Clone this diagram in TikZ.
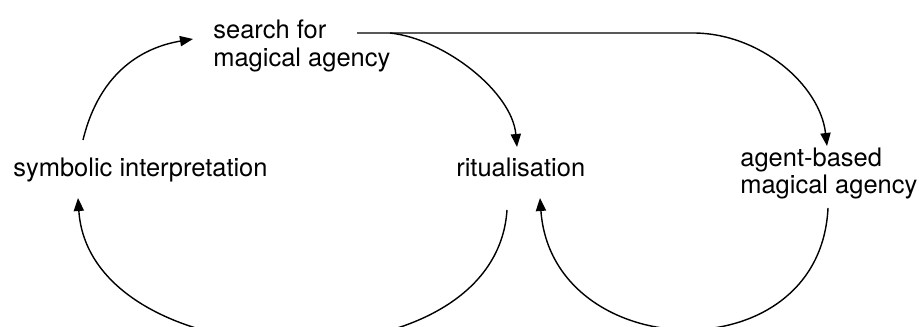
\documentclass[tikz,border=0pt]{standalone}
\usepackage{fontspec}
\setmainfont{TeX Gyre Heros}
\usetikzlibrary{calc,arrows.meta}
\tikzset{
	lbl/.style={inner sep=0pt, font=\fontsize{14.5}{15.4}\selectfont},
	arr/.style={line width=0.8pt, -{Triangle[length=7.4pt,width=5.8pt]}}
}

\begin{document}
\begin{tikzpicture}[x=0.02cm, y=0.02cm]
		%%%%% START %%%%%
		
		\useasboundingbox (0, 0) rectangle (919, 327);
		\clip (0, 0) rectangle (919, 327);
		
		\node[lbl, anchor=base west] (sym) at (13, 150) {symbolic interpretation};
		\node[lbl, anchor=base west] (rit) at (456, 150) {ritualisation};
		\node[lbl, anchor=north west, align=left] (search) at (213, 307) {search for\\magical agency};
		\node[lbl, anchor=north west, align=left] (agent) at (740, 179) {agent-based\\magical agency};
		
		\coordinate (hstart) at ($(search.north west)+(144, -13)$);
		\coordinate (fork) at ($(hstart)+(33, 0)$);
		\coordinate (turn) at ($(hstart)+(336, 0)$);
		
		\draw[arr] ($(sym.base west)+(70, 37)$) .. controls +(17, 70) and +(-48, -8) .. ($(search.north west)+(-20, -19)$);
		\draw[arr] (hstart) -- (turn) .. controls +(67, 0) and +(-7, 61) .. ($(agent.north west)+(87, 2)$);
		\draw[arr] (fork) .. controls +(55, -6) and +(-5, 55) .. ($(rit.base west)+(61, 30)$);
		
		\draw[arr] ($(rit.base west)+(51, -33)$) .. controls +(-12, -183) and +(12, -183) .. ($(sym.base west)+(65, -21)$);
		\draw[arr] ($(agent.north west)+(88, -60)$) .. controls +(-8, -167) and +(12, -167) .. ($(rit.base west)+(84, -21)$);
		
		%%%%% END %%%%%
	\end{tikzpicture}
\end{document}
